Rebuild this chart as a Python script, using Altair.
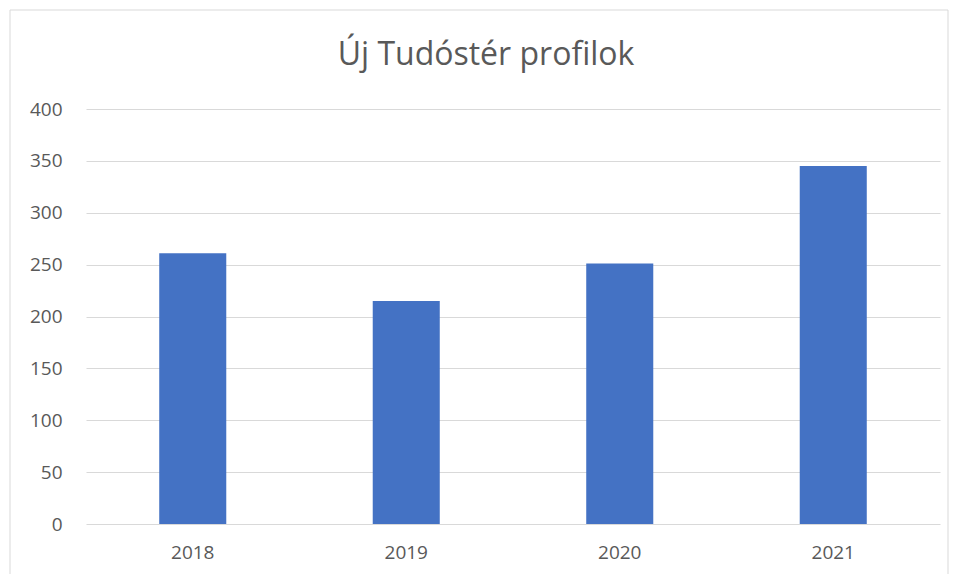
import altair as alt
import pandas as pd

years = ["2018", "2019", "2020", "2021"]
values = [261, 215, 251, 345]
y_ticks = [0, 50, 100, 150, 200, 250, 300, 350, 400]
title_text = ["Új Tudóstér profilok"]

df = pd.DataFrame({"year": years, "value": values})

FONT = "Open Sans"
GREY = "#595959"

frame = alt.Chart(pd.DataFrame({"a": [0]})).mark_rect(
    fill=None, stroke="#d9d9d9", strokeWidth=1, clip=False
).encode(
    x=alt.value(-76), x2=alt.value(862), y=alt.value(-99), y2=alt.value(480)
)

title = alt.Chart(pd.DataFrame({"t": title_text})).mark_text(
    font=FONT, fontSize=32, color=GREY, align="center", baseline="middle", clip=False
).encode(
    text="t:N", x=alt.value(400), y=alt.value(-54)
)

bars = alt.Chart(df).mark_bar(color="#4472C4").encode(
    x=alt.X("year:N", sort=years, title=None,
            scale=alt.Scale(paddingInner=0.686, paddingOuter=0.343),
            axis=alt.Axis(labelAngle=0, labelFontSize=19, labelColor=GREY,
                          labelFont=FONT, ticks=False, domain=False, labelPadding=19,
                          grid=False)),
    y=alt.Y("value:Q", title=None,
            scale=alt.Scale(domain=[0, 400], nice=False),
            axis=alt.Axis(values=y_ticks, labelFontSize=19, labelColor=GREY,
                          labelFont=FONT, ticks=False, domain=False, labelPadding=24,
                          grid=True, gridColor="#d9d9d9", gridWidth=1)),
)

chart = alt.layer(frame, bars, title).properties(
    width=854, height=415,
    autosize=alt.AutoSizeParams(type="none"),
    padding={"left": 78, "top": 101, "right": 9, "bottom": 50},
).configure_view(stroke=None)

chart.save("out.html", embed_options={"renderer": "svg", "actions": False})
